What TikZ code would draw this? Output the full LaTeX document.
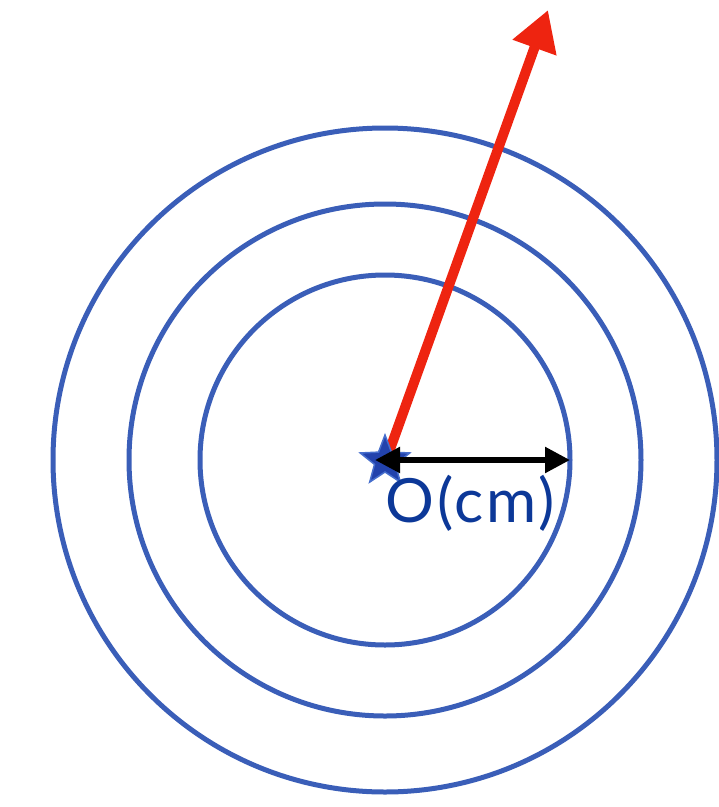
\documentclass[tikz,border=0pt]{standalone}
\usepackage{fontspec}
\setmainfont{Lato}
\newfontfamily\labfont[LetterSpace=5]{Lato}
\usetikzlibrary{arrows.meta,calc}
\definecolor{ringblue}{RGB}{58,94,184}
\definecolor{arrred}{RGB}{238,36,16}
\definecolor{txtblue}{RGB}{12,56,152}
\definecolor{starblue}{RGB}{34,66,172}
\definecolor{staredge}{RGB}{70,110,205}
\tikzset{
  ring/.style={draw=ringblue,line width=5pt},
  starmark/.style={fill=starblue,draw=staredge,line width=1.5pt,line join=miter},
}
\begin{document}
\begin{tikzpicture}[x=1pt,y=-1pt]
\useasboundingbox (0,0) rectangle (719,807);
\coordinate (O) at (385,460);
\draw[ring] (O) circle (185);
\draw[ring] (O) circle (256);
\draw[ring] (O) circle (332);
\coordinate (tip) at (548,10);
\coordinate (rs) at (389,452);
\draw[arrred,line width=10pt,-{Triangle[length=40pt,width=44pt]}] (rs) -- (tip);
\coordinate (st) at (385,461);
\draw[starmark] ($(st)+(-90:26)$)
  \foreach \k in {0,...,4} {
    -- ($(st)+(-90+36+72*\k:11)$) -- ($(st)+(-90+72+72*\k:26)$)
  } -- cycle;
\coordinate (bl) at (375,460);
\coordinate (br) at (570,460);
\draw[black,line width=5.5pt,{Triangle[length=25pt,width=25pt]}-{Triangle[length=25pt,width=25pt]}] (bl) -- (br);
\node[anchor=base west,inner sep=0pt,text=txtblue,font=\labfont\fontsize{61}{64}\selectfont] (lab) at (385,522) {O(cm)};
\end{tikzpicture}
\end{document}
